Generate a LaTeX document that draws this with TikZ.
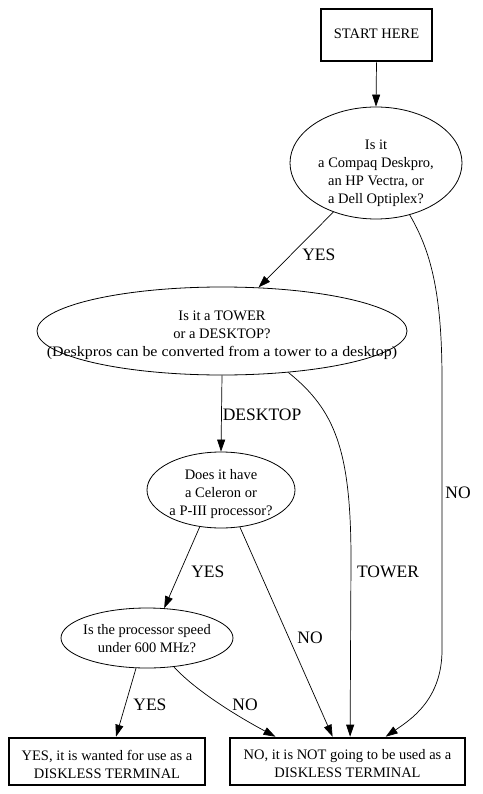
\documentclass[tikz,border=0pt]{standalone}
\usepackage{fontspec}
\setmainfont{Liberation Serif}
\usetikzlibrary{arrows.meta,shapes.geometric}
\begin{document}
\begin{tikzpicture}[x=1pt,y=-1pt,
  txt/.style={font=\fontsize{14.5}{18}\selectfont, align=center, inner sep=0pt},
  boxnode/.style={draw, rectangle, line width=2.6pt, inner sep=0pt},
  ell/.style={draw, ellipse, line width=0.8pt, inner sep=0pt},
  lbl/.style={font=\fontsize{17.5}{20}\selectfont, inner sep=0pt},
  arr/.style={line width=0.7pt, -{Triangle[length=12pt,width=8pt]}}]
\useasboundingbox (0,0) rectangle (482,794);
% shapes
\node[boxnode, minimum width=111pt, minimum height=52pt] (start) at (376.5,35) {};
\node[ell, minimum width=172pt, minimum height=112pt] (e1) at (376,163) {};
\node[ell, minimum width=370pt, minimum height=88pt] (e2) at (222,331) {};
\node[ell, minimum width=148pt, minimum height=76pt] (e3) at (221,490) {};
\node[ell, minimum width=172pt, minimum height=60pt] (e4) at (147,638) {};
\node[boxnode, minimum width=196pt, minimum height=47pt] (yb) at (107,761.5) {};
\node[boxnode, minimum width=235pt, minimum height=47pt] (nb) at (347.5,761.5) {};
% texts
\node[txt] (tstart) at (376.5,34) {START HERE};
\node[txt] (t1) at (376,173) {Is it\\a Compaq Deskpro,\\an HP Vectra, or\\a Dell Optiplex?};
\node[txt] (t2) at (222,335) {Is it a TOWER\\or a DESKTOP?\\\scalebox{1.1}[1]{(Deskpros can be converted from a tower to a desktop)}};
\node[txt] (t3) at (221,494) {Does it have\\a Celeron or\\a P-III processor?};
\node[txt] (t4) at (147,639) {Is the processor speed\\under 600 MHz?};
\node[txt] (tyb) at (107,764) {YES, it is wanted for use as a\\DISKLESS TERMINAL};
\node[txt] (tnb) at (347.5,764) {NO, it is NOT going to be used as a\\DISKLESS TERMINAL};
% connectors
\draw[arr] (start.south) -- (e1.north);
\draw[arr] (e1.229) -- node[lbl, right=6pt, yshift=-5pt] (l1) {YES} (e2.50);
\draw[arr] (e1.303) .. controls (430,250) and (442,290) .. (442,380) -- (442,650) .. controls (442,700) and (410,720) .. (nb.33);
\node[lbl] (l2) at (458,493) {NO};
\draw[arr] (e2.south) -- node[lbl, right=1pt, yshift=-1pt] (l3) {DESKTOP} (e3.north);
\draw[arr] (e2.328) .. controls (335,410) and (351,450) .. (351,560) -- (nb.84);
\node[lbl] (l4) at (388,572) {TOWER};
\draw[arr] (e3.240) -- node[lbl, right=9pt, yshift=-4pt] (l5) {YES} (e4.60);
\draw[arr] (e3.297) -- node[lbl, right=9pt, pos=0.52, yshift=-2pt] (l6) {NO} (nb.121);
\draw[arr] (e4.250) -- node[lbl, right=7pt, yshift=-2pt] (l7) {YES} (yb.70);
\draw[arr] (e4.313) .. controls (195,690) and (235,715) .. (nb.161);
\node[lbl] (l8) at (245,705) {NO};
\end{tikzpicture}
\end{document}
